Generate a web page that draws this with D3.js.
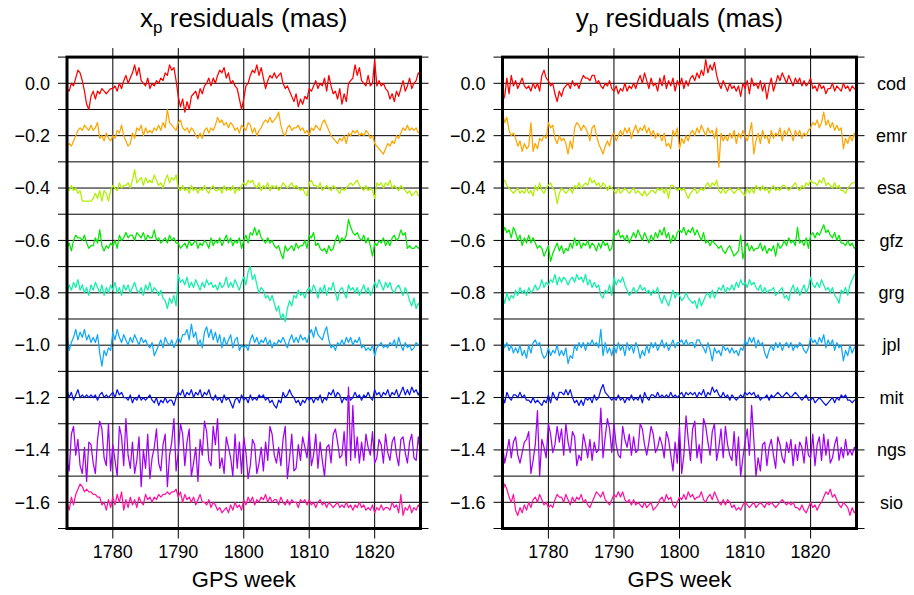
<!DOCTYPE html>
<html>
<head>
<meta charset="utf-8">
<script src="https://cdn.jsdelivr.net/npm/d3@7"></script>
<style>
  body { margin: 0; background: #fff; }
  svg text { font-family: "Liberation Sans", Arial, Helvetica, sans-serif; fill: #000; }
</style>
</head>
<body>
<svg id="chart" width="914" height="595"></svg>
<script>
// analysis centres, stacked from top to bottom
const centres = ["cod", "emr", "esa", "gfz", "grg", "jpl", "mit", "ngs", "sio"];
const colours = ["#ff0000", "#ffa500", "#b0f000", "#00e800", "#10f0a8", "#10a8f8", "#0a14f0", "#a100f4", "#ff14a0"];
const offsets = [0.0, -0.2, -0.4, -0.6, -0.8, -1.0, -1.2, -1.4, -1.6];
const yTicks = [0.0, -0.2, -0.4, -0.6, -0.8, -1.0, -1.2, -1.4, -1.6];
const xTicks = [1780, 1790, 1800, 1810, 1820];

// residuals in 0.01 mas, three samples per GPS week from week 1773
const startWeek = 1773;
const samplesPerWeek = 3;

const xpCod = [
  -2,-3,0,-1,2,5,4,1,-3,-8,-10,-5,-3,-6,-3,-4,-2,-3,-4,-3,-2,-2,-1,-3,0,-2,1,
  3,0,2,4,7,3,6,1,0,-1,2,-2,0,-1,1,0,2,1,4,3,7,5,6,1,-5,-9,-6,
  -11,-7,-10,-5,-4,-3,-6,-2,-4,-1,0,2,-1,2,0,3,5,4,6,2,4,0,1,-1,-2,-6,-10,
  -6,-1,0,3,5,4,7,3,6,2,-2,1,3,2,4,2,3,4,0,-2,-1,-3,-5,-7,-4,-9,-6,
  -8,-5,-6,-2,-3,-1,1,-2,0,-1,2,-3,3,-1,-4,-3,-6,-2,-8,-4,-7,0,1,2,7,3,6,
  1,0,-1,3,-1,0,9,-1,1,-1,0,-2,-3,-6,-4,-7,-3,-5,-2,1,-3,-1,2,-2,0,1,4,3];
const xpEmr = [
  -4,-3,-4,-2,0,2,3,2,4,3,2,4,2,3,5,-1,0,-2,1,-1,-2,0,-1,2,1,4,0,
  -2,-4,-3,1,-1,3,2,4,0,3,1,2,1,3,2,4,2,5,3,10,5,4,3,2,5,6,3,
  2,3,1,3,2,0,-1,1,-1,2,3,1,3,2,4,7,5,6,4,5,3,5,4,2,3,1,4,
  3,2,5,4,1,3,0,2,3,5,6,5,7,5,6,7,9,4,1,0,3,4,2,3,3,4,2,
  3,1,2,0,3,2,4,3,2,5,6,4,2,0,-1,-2,-3,-1,-2,0,-3,1,0,2,1,2,0,
  1,0,2,1,-1,0,-3,-4,-5,-6,-7,-5,-3,-4,-2,-3,0,-1,1,3,2,4,2,3,2,3,1,2];
const xpEsa = [
  0,-1,1,-1,0,-2,-1,-5,-5,-5,-5,-5,-4,-2,-4,-1,-5,-1,-2,-5,-1,1,0,-1,2,0,1,
  1,2,0,3,7,2,3,4,1,4,2,3,2,5,3,1,2,0,3,5,2,4,3,5,0,-1,1,
  -1,0,-2,1,-1,0,-2,0,-1,1,-1,-2,0,1,-1,-1,0,-2,1,-1,0,-1,1,-2,0,-1,1,
  2,1,3,2,3,1,0,2,-1,1,0,2,-1,1,0,1,-1,0,2,1,0,1,2,0,1,0,-1,
  0,-2,-3,2,3,1,1,0,2,-1,0,1,0,-1,1,0,-1,-2,0,-1,0,1,2,1,2,3,1,
  0,-1,1,-1,0,-1,-4,2,1,2,0,2,1,3,0,1,0,-1,1,0,-1,-2,-1,-3,-2,-1,-3,-2];
const xpGfz = [
  -3,-1,-4,0,2,1,1,0,2,-1,-3,-2,-2,1,-1,4,-2,-4,-2,-3,-1,-2,0,-3,2,0,1,
  3,1,2,2,0,3,2,1,3,0,2,1,1,4,0,1,-1,0,1,-1,2,0,1,-1,-1,-3,-2,
  -1,-3,0,-2,-1,0,-3,-1,-2,0,-1,-3,1,-2,0,-1,1,-2,0,2,-1,1,-2,0,-1,1,-3,
  0,2,-1,3,2,5,2,4,1,0,-1,1,-1,0,-2,-3,-2,-5,-7,-2,-4,-3,-2,-4,-1,-3,-2,
  -2,0,-3,2,1,3,-2,-1,-3,-4,-3,-5,-2,-4,-3,0,2,-1,1,0,2,8,5,3,2,3,1,
  0,2,-1,1,-2,-6,-1,-2,0,-1,1,-2,0,-2,1,2,0,1,4,2,3,-3,-2,-3,-3,-2,-3,-2];
const xpGrg = [
  0,3,1,4,2,5,1,3,0,2,-1,3,1,4,2,0,3,-1,2,0,3,1,4,0,2,-1,3,
  1,3,0,2,4,1,0,2,-1,3,1,4,0,2,1,-1,1,-2,-3,-6,-2,-4,-1,-5,7,4,5,
  3,6,2,4,2,5,3,1,4,2,5,3,4,2,3,1,4,2,3,6,2,4,2,5,3,1,4,
  6,3,8,10,5,7,3,0,2,1,-2,-1,-3,-1,-4,-7,-5,-10,-8,-11,-6,-3,-5,-1,-2,1,-1,
  0,-2,1,2,0,3,1,-2,2,0,3,-1,2,1,4,0,-3,1,2,0,-2,3,1,2,0,2,-1,
  1,3,0,2,-1,1,4,2,5,3,1,4,2,4,1,0,2,3,1,-1,2,0,-3,-5,-2,-6,-4,-5];
const xpJpl = [
  4,-2,1,3,6,2,5,3,6,2,4,1,3,1,4,-3,-8,-2,-4,-1,-2,5,2,6,3,1,4,
  2,0,3,1,4,2,0,3,1,2,0,-1,1,-4,-2,0,2,-1,3,1,0,2,-1,1,3,1,4,
  4,6,2,8,3,5,0,2,-1,5,7,3,6,2,5,1,4,-1,3,0,2,4,-1,2,3,-2,0,
  -1,0,-2,2,4,1,3,0,2,1,3,0,2,-1,1,0,2,1,3,1,-1,2,4,1,3,1,4,
  2,3,1,4,6,3,7,4,3,2,5,7,2,-1,0,-2,1,0,2,0,3,1,3,0,2,1,3,
  -1,0,-2,-1,-2,0,-4,-1,0,1,-1,0,-1,1,0,2,-1,3,0,-2,1,-1,0,-2,-1,1,0,1];
const xpMit = [
  3,0,2,-1,1,3,0,1,0,1,0,1,0,1,-1,1,2,0,1,0,1,2,0,3,1,2,0,
  0,-1,1,-2,0,-1,1,-1,0,-1,0,1,-1,-2,0,-3,-1,-2,0,-2,-1,-1,-3,0,2,1,3,
  0,2,1,3,0,2,1,3,0,2,1,3,0,-1,1,-1,0,-2,1,-1,0,-2,-4,-1,0,-2,1,
  -1,0,-2,1,-1,0,-1,1,0,1,-1,0,-2,-1,-3,-4,-1,-2,2,0,1,3,1,0,-2,-1,-3,
  -1,-2,0,-1,0,-2,0,-1,1,-2,0,-1,2,1,3,0,2,1,-2,0,-1,1,-1,0,2,0,1,
  -1,1,0,2,0,-1,3,1,2,0,2,1,3,0,2,1,3,0,2,4,1,3,1,4,2,3,1,3];
const xpNgs = [
  -4,-8,6,9,-2,4,-6,-9,1,-12,3,2,-5,-9,4,11,8,-3,-6,10,-8,2,-4,-10,9,5,-6,
  12,-2,-7,3,-9,-4,5,-14,0,-7,6,-11,-3,1,8,-5,-8,2,6,-14,-2,3,12,-8,-1,10,6,
  -6,3,8,-10,-5,1,-12,4,-2,11,7,-4,-6,9,2,12,-7,-3,-9,5,1,-3,-10,6,-7,3,-9,
  5,-1,-11,-6,4,2,-9,-5,1,-8,3,-4,9,6,-2,-5,1,-6,4,9,-11,-3,6,-8,-7,2,-4,
  5,1,-3,7,-6,-2,6,-7,3,-4,-10,1,2,-5,6,8,3,-3,-2,7,-6,24,-4,17,-3,5,-5,
  3,-4,6,1,-2,7,-5,-3,4,2,-5,6,-1,-4,3,5,-2,-6,4,5,-1,-5,3,6,-3,-4,5,-1];
const xpSio = [
  0,-3,2,-1,3,5,7,6,4,5,4,4,3,3,2,2,-1,0,-3,1,-2,2,-1,3,0,4,-3,
  1,-2,2,-1,1,-2,2,0,-1,3,1,2,0,2,1,3,2,3,3,4,3,4,4,5,2,4,0,
  3,1,2,0,2,-1,1,3,0,0,-1,1,-2,0,-1,-3,-2,-4,-3,-2,-4,-1,-3,0,-2,-1,-3,
  1,-1,2,0,2,-1,1,0,2,1,3,0,2,0,1,1,-1,2,0,-1,1,-1,1,0,0,-2,1,
  0,1,-1,1,-1,0,-2,0,1,-1,0,-2,0,-1,-2,-1,0,-2,-1,-2,0,-2,-1,-3,-1,-2,0,
  -2,-1,-3,-2,-3,-1,-4,-2,-3,-1,-3,-2,-2,-3,0,-2,-1,-4,3,-5,-2,-3,-1,-4,-2,-3,-1,-2];

const ypCod = [
  -7,-5,2,-4,3,-1,1,-2,0,2,-1,-2,-1,-3,0,-2,0,-3,3,5,2,1,-1,0,-4,-7,-3,
  -5,-2,-1,0,-2,1,-1,0,-2,1,3,2,2,1,3,3,0,1,-1,-2,0,-1,1,-2,-3,-1,-4,
  -2,-3,0,-3,-1,-2,0,-2,1,3,0,4,1,-2,2,-1,0,-3,2,-1,3,-2,1,-1,2,-3,1,
  -1,2,-2,1,-1,2,3,1,4,2,5,3,9,4,7,5,8,3,0,-2,1,-1,-3,0,-2,-1,-3,
  -1,-5,0,-2,1,-4,2,-1,0,-2,1,-3,0,-6,-1,2,-3,0,3,1,4,2,0,3,1,-1,2,
  0,2,-1,1,-1,0,2,-2,-1,-3,0,-2,-1,-4,-2,-2,0,-3,-1,-2,-3,0,-2,-1,-3,-1,-2,-3];
const ypEmr = [
  9,5,7,2,0,1,-1,-4,-2,-6,-3,-5,-4,5,-6,-3,-5,-1,-2,0,-1,5,3,4,-1,-3,0,
  -2,-1,-3,-7,-2,-5,3,5,4,2,4,3,1,-2,3,4,0,-3,-5,-7,-4,-2,-4,0,1,-2,0,
  2,0,3,1,3,-1,2,4,1,3,2,4,1,3,0,2,-1,1,0,-2,1,-4,-3,-5,2,0,3,
  -5,-1,-3,0,-2,1,2,0,3,1,4,2,0,3,1,2,-1,3,-12,1,-2,0,-2,1,-1,2,-3,
  1,-1,2,0,-2,1,5,-7,-2,1,-3,2,-1,0,-3,2,-1,1,0,3,-2,2,0,3,1,-2,2,
  0,2,-1,1,0,2,3,5,4,6,3,5,9,4,6,3,5,2,4,2,3,-5,-1,-3,0,-2,1,-2];
const ypEsa = [
  2,3,1,0,-1,-2,-1,0,-2,-1,-2,0,-2,-1,-3,1,-1,2,-1,-2,0,1,2,0,-1,-6,-2,
  0,-1,-2,-1,0,-2,1,0,2,0,1,2,1,4,2,3,1,2,0,2,1,-1,1,0,-1,-2,0,
  -2,-1,0,-1,-2,-1,0,-2,-1,-2,-3,-1,-3,-2,-1,-1,-2,0,-1,0,-2,0,-4,1,1,0,-1,
  0,-1,0,-2,-4,-2,-1,0,-2,-1,0,-1,1,2,0,2,1,3,-1,-2,0,-2,-1,0,-1,-2,-1,
  0,-1,-2,-3,0,-2,0,-2,1,0,-1,1,-1,0,-2,0,1,-1,0,-1,1,1,0,-1,0,1,2,
  0,-1,1,0,2,1,3,2,2,1,3,2,4,1,2,1,0,2,0,1,-1,-1,-2,0,1,2,2,3];
const ypGfz = [
  2,5,3,4,1,5,3,0,2,-2,1,-1,2,-1,1,-1,-3,-2,-3,-6,-4,-2,-8,-5,-3,-1,-4,
  -2,-5,-3,-4,-1,-3,1,-2,0,-3,-1,-2,0,-3,-1,-2,-4,-1,-3,0,-2,-1,-4,-3,3,2,4,
  1,2,0,2,-1,1,3,1,4,2,0,3,1,-1,2,0,3,1,4,2,5,1,3,-1,2,0,3,
  4,3,5,2,4,3,5,2,4,2,0,3,-1,0,-2,0,-1,-2,-3,-2,-4,-5,-3,-2,-4,-6,-5,
  -4,2,-7,-3,-1,-4,-2,-4,-3,-3,-1,-4,-2,-5,-3,-4,-2,-6,-1,-3,-2,0,-2,1,-1,0,-2,
  5,-1,0,-2,1,-3,2,3,1,3,2,4,6,3,4,2,1,3,0,2,-1,-1,-2,0,-2,-1,-3,-2];
const ypGrg = [
  -1,-4,0,-3,-1,-2,1,-1,2,0,1,-1,2,0,1,3,1,2,5,2,4,3,5,4,7,3,6,
  4,6,5,3,5,6,4,7,5,6,4,7,3,5,2,4,2,3,-1,-2,1,0,3,-1,6,3,5,
  4,6,3,1,-1,0,2,0,1,3,1,2,0,1,-1,1,0,2,-2,-4,-1,-3,-5,-2,1,-2,0,
  -1,-3,-2,0,-2,-3,-4,-3,-6,-2,-5,-3,-1,0,-2,1,-2,0,2,1,3,0,2,1,3,1,4,
  2,5,3,4,2,5,3,4,2,1,3,0,2,0,1,1,2,-1,0,1,2,-2,-1,-3,1,3,0,
  2,-1,1,3,0,2,6,3,2,4,2,5,3,1,2,0,2,-1,-2,-4,1,0,2,-1,3,5,7,7];
const ypJpl = [
  2,-1,1,-2,0,-3,-1,-3,0,-4,-2,-5,0,-3,1,2,0,1,-3,-5,-4,-1,-4,-2,-3,0,-4,
  -2,-4,-1,-7,-4,-5,0,-2,1,-1,1,-2,1,0,2,0,1,-1,6,-4,1,-3,-1,-4,0,-3,1,
  -2,0,-4,1,-2,0,-3,1,-1,-5,-2,-4,0,-3,1,-1,1,-2,0,2,-1,1,-2,0,2,-1,1,
  1,2,0,2,0,1,1,-1,2,2,0,-1,-3,1,-2,-6,-1,-3,-2,-4,0,-2,-1,-3,-1,-3,-2,
  -4,-1,-2,2,0,3,1,3,-1,2,0,1,-3,-5,-2,0,-2,1,-1,1,-2,0,1,-1,1,-2,0,
  -1,1,0,-2,-3,-1,3,1,2,0,3,1,4,-1,2,0,2,-2,1,-1,0,-6,-2,-4,0,-3,-1,0];
const ypMit = [
  1,-2,2,0,-1,1,1,0,2,0,1,-1,-1,-2,0,-2,-1,-2,-3,-1,-2,1,-2,2,0,-1,2,
  2,1,3,1,3,0,-2,-1,-3,-1,-3,0,-1,0,-2,1,-1,0,3,5,2,1,0,-1,0,-1,1,
  -1,0,-2,0,-1,1,-1,0,-1,1,-2,2,0,-1,1,1,0,2,0,1,0,1,0,2,0,1,0,
  1,2,0,2,1,2,1,2,0,2,1,3,0,2,1,4,2,3,1,0,2,0,1,-1,1,0,-1,
  0,1,0,2,1,2,1,2,0,1,-1,0,0,1,-1,1,0,1,2,1,0,1,2,1,0,1,2,
  1,0,-1,0,1,-1,-1,0,-2,-1,0,-1,-2,-3,-2,-1,0,-2,0,-1,1,0,1,-1,-1,-2,-1,-1];
const ypNgs = [
  2,-5,-1,4,-3,3,5,-2,-5,-1,3,4,7,-9,-4,2,15,-10,4,1,-3,10,6,-1,2,9,3,
  8,-2,10,3,-1,7,5,-6,-2,-4,6,2,-3,4,-4,3,-1,0,16,-3,5,12,8,-1,10,2,-2,
  -3,9,4,1,6,-2,5,-1,0,10,8,2,-2,3,9,6,-1,1,5,2,-3,7,4,-2,-8,3,-5,
  9,-9,-2,13,4,-4,8,11,-3,2,-5,12,9,3,-2,7,10,-4,1,8,-3,9,2,-2,-4,7,-6,
  5,-10,-3,3,8,-2,17,4,-10,-3,-8,2,3,-6,1,4,-2,-7,5,2,-3,-5,3,-1,4,-6,2,
  -4,3,1,-5,5,-2,-3,6,-6,2,5,-4,6,-2,4,-5,-3,2,5,-4,1,-3,4,-2,0,-2,1,-1];
const ypSio = [
  4,7,5,2,0,3,-3,-5,-2,-4,-1,-3,0,-2,1,2,0,3,1,-1,0,-2,-1,-2,1,3,2,
  2,0,3,1,-1,2,0,2,1,3,0,1,-1,-2,0,2,4,3,2,4,1,0,-1,1,3,2,4,
  2,4,1,0,1,-1,1,-1,0,-1,-2,0,-2,-1,0,-3,-2,-1,1,2,0,3,1,2,-1,-2,0,
  2,1,3,1,4,2,3,1,2,2,4,1,0,2,3,1,4,2,0,-1,1,-1,1,0,-2,-1,-3,
  -2,-3,-1,0,-1,-2,-1,0,-2,-1,0,-1,-2,0,-1,0,-1,-2,-1,0,1,0,-1,0,-1,0,-2,
  -2,-3,-1,-3,-4,-2,0,-2,-1,-3,-1,0,2,4,3,5,2,3,1,-1,-2,0,-1,-2,-5,-2,-4,-3];

const panels = [
  { sym: "x", left: 67, right: 420.5, series: [xpCod, xpEmr, xpEsa, xpGfz, xpGrg, xpJpl, xpMit, xpNgs, xpSio], names: false },
  { sym: "y", left: 502.5, right: 856.5, series: [ypCod, ypEmr, ypEsa, ypGfz, ypGrg, ypJpl, ypMit, ypNgs, ypSio], names: true }
];

const svg = d3.select("#chart");
svg.append("rect").attr("width", 914).attr("height", 595).attr("fill", "#fff");

const plotTop = 57.1, plotBottom = 528.5;
const y = d3.scaleLinear().domain([-1.7, 0.1]).range([plotBottom, plotTop]);
const fmt = d3.format(".1f");

panels.forEach(p => {
  const x = d3.scaleLinear().domain([1773, 1827]).range([p.left, p.right]);
  const g = svg.append("g");

  // grid lines, running out past the frame as ticks
  g.selectAll("line.h")
    .data(y.ticks(18))
    .enter()
    .append("line")
    .attr("x1", p.left - 9)
    .attr("x2", p.right + 8)
    .attr("y1", d => y(d))
    .attr("y2", d => y(d))
    .attr("stroke", "#000")
    .attr("stroke-width", 1);

  g.selectAll("line.v")
    .data(xTicks)
    .enter()
    .append("line")
    .attr("x1", d => x(d))
    .attr("x2", d => x(d))
    .attr("y1", plotTop - 9)
    .attr("y2", plotBottom + 10)
    .attr("stroke", "#000")
    .attr("stroke-width", 1);

  // one line per analysis centre
  const line = (off) => d3.line()
    .x((d, i) => x(startWeek + i / samplesPerWeek))
    .y(d => y(off + d / 100));

  p.series.forEach((s, k) => {
    g.append("path")
      .attr("d", line(offsets[k])(s))
      .attr("fill", "none")
      .attr("stroke", colours[k])
      .attr("stroke-width", 1.25)
      .attr("stroke-linejoin", "round");
  });

  // frame
  g.append("rect")
    .attr("x", p.left)
    .attr("y", plotTop)
    .attr("width", p.right - p.left)
    .attr("height", plotBottom - plotTop)
    .attr("fill", "none")
    .attr("stroke", "#000")
    .attr("stroke-width", 3);

  g.selectAll("text.yt")
    .data(yTicks)
    .enter()
    .append("text")
    .attr("x", p.left - 17)
    .attr("y", d => y(d))
    .attr("dy", "0.35em")
    .attr("text-anchor", "end")
    .attr("font-size", 18)
    .text(d => fmt(d));

  g.selectAll("text.xt")
    .data(xTicks)
    .enter()
    .append("text")
    .attr("x", d => x(d))
    .attr("y", 558)
    .attr("text-anchor", "middle")
    .attr("font-size", 18)
    .text(d => d);

  g.append("text")
    .attr("x", (p.left + p.right) / 2)
    .attr("y", 587)
    .attr("text-anchor", "middle")
    .attr("font-size", 22)
    .text("GPS week");

  const t = g.append("text")
    .attr("x", (p.left + p.right) / 2)
    .attr("y", 27)
    .attr("text-anchor", "middle")
    .attr("font-size", 26);
  t.append("tspan").text(p.sym);
  t.append("tspan").attr("dy", 6).attr("font-size", 17).text("p");
  t.append("tspan").attr("dy", -6).text(" residuals (mas)");

  if (p.names) {
    g.selectAll("text.nm")
      .data(centres)
      .enter()
      .append("text")
      .attr("x", 891.5)
      .attr("y", (d, k) => y(offsets[k]))
      .attr("dy", "0.35em")
      .attr("text-anchor", "middle")
      .attr("font-size", 18)
      .text(d => d);
  }
});
</script>
</body>
</html>
